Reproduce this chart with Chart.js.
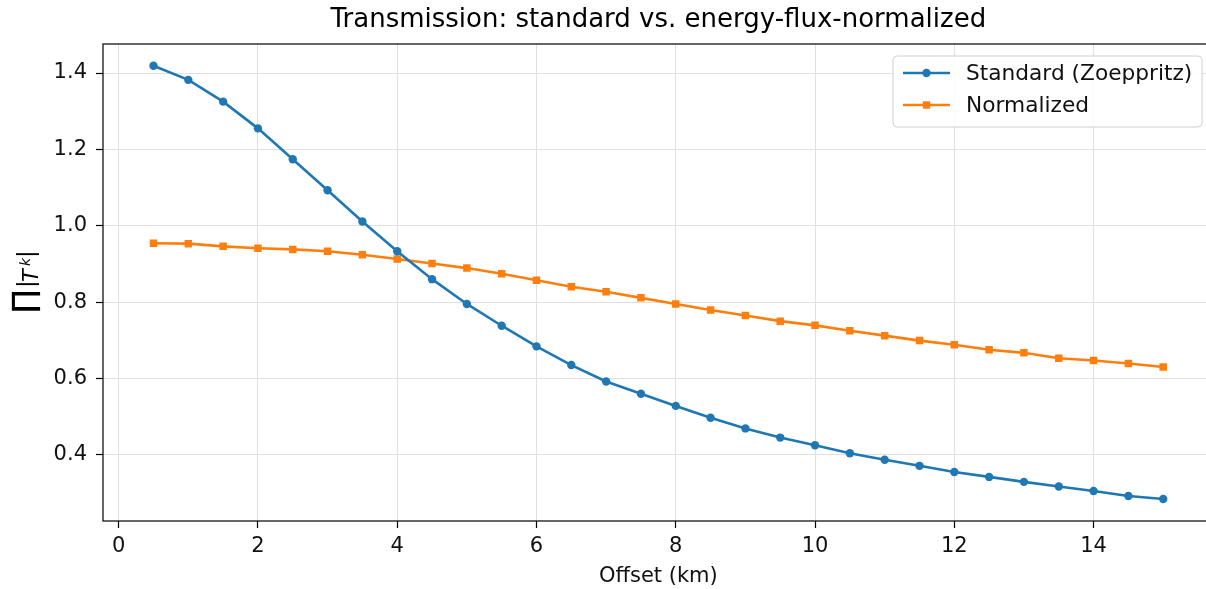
<!DOCTYPE html>
<html>
<head>
<meta charset="utf-8">
<script src="https://cdn.jsdelivr.net/npm/chart.js@4.4.1/dist/chart.umd.min.js"></script>
<style>
  html, body { margin: 0; padding: 0; background: #fff; overflow: hidden; }
  #wrap { width: 1206px; height: 589px; overflow: hidden; }
</style>
</head>
<body>
<div id="wrap"><canvas id="chart" width="1219" height="589"></canvas></div>
<script>
// offsets in km
const offsets = [0.5, 1, 1.5, 2, 2.5, 3, 3.5, 4, 4.5, 5, 5.5, 6, 6.5, 7, 7.5,
                 8, 8.5, 9, 9.5, 10, 10.5, 11, 11.5, 12, 12.5, 13, 13.5, 14, 14.5, 15];
const standard = [1.419, 1.382, 1.325, 1.255, 1.174, 1.093, 1.011, 0.933, 0.860, 0.795,
                  0.738, 0.684, 0.635, 0.592, 0.560, 0.528, 0.497, 0.469, 0.445, 0.425,
                  0.404, 0.387, 0.371, 0.355, 0.342, 0.329, 0.317, 0.305, 0.292, 0.284];
const normalized = [0.954, 0.953, 0.946, 0.941, 0.938, 0.933, 0.924, 0.913, 0.901, 0.889,
                    0.874, 0.857, 0.840, 0.827, 0.811, 0.795, 0.779, 0.765, 0.750, 0.739,
                    0.725, 0.712, 0.699, 0.688, 0.675, 0.667, 0.653, 0.647, 0.639, 0.630];
const xTicks = [0, 2, 4, 6, 8, 10, 12, 14];
const yTicks = [0.4, 0.6, 0.8, 1.0, 1.2, 1.4];

const FONT = "'DejaVu Sans', sans-serif";

// frame around the plot area (top spine too)
const frame = {
    id: 'frame',
    afterDraw(chart) {
        const a = chart.chartArea, ctx = chart.ctx;
        ctx.save();
        ctx.strokeStyle = '#000';
        ctx.lineWidth = 1.2;
        ctx.strokeRect(a.left, a.top, a.right - a.left, a.bottom - a.top);
        ctx.restore();
    }
};

// y label: big product sign followed by |T_k|
const yLabel = {
    id: 'yLabel',
    afterDraw(chart) {
        const ctx = chart.ctx;
        ctx.save();
        ctx.translate(34, 313);
        ctx.rotate(-Math.PI / 2);
        ctx.fillStyle = '#000';
        ctx.textBaseline = 'alphabetic';
        ctx.font = '31px ' + FONT;
        ctx.fillText('∏', 0, 0);
        ctx.font = '23px ' + FONT;
        ctx.fillText('|', 25, 0);
        ctx.font = 'italic 21px ' + FONT;
        ctx.fillText('T', 31, 4);
        ctx.font = 'italic 14px ' + FONT;
        ctx.fillText('k', 47, -4);
        ctx.font = '23px ' + FONT;
        ctx.fillText('|', 55, 0);
        ctx.restore();
    }
};

// legend box in the upper right corner
const legendBox = {
    id: 'legendBox',
    afterDraw(chart) {
        const ctx = chart.ctx;
        const x0 = 893, y0 = 56, w = 309, h = 71;
        ctx.save();
        ctx.beginPath();
        ctx.roundRect(x0, y0, w, h, 4);
        ctx.fillStyle = 'rgba(255,255,255,0.85)';
        ctx.fill();
        ctx.strokeStyle = '#d0d0d0';
        ctx.lineWidth = 1;
        ctx.stroke();
        chart.data.datasets.forEach((ds, i) => {
            const y = 73 + i * 32;
            ctx.strokeStyle = ds.borderColor;
            ctx.lineWidth = 2.6;
            ctx.beginPath();
            ctx.moveTo(903, y);
            ctx.lineTo(950, y);
            ctx.stroke();
            ctx.fillStyle = ds.borderColor;
            if (ds.pointStyle === 'rect') {
                ctx.fillRect(926.5 - 3.7, y - 3.7, 7.4, 7.4);
            } else {
                ctx.beginPath();
                ctx.arc(926.5, y, 4.2, 0, Math.PI * 2);
                ctx.fill();
            }
            ctx.fillStyle = '#111';
            ctx.font = '21.7px ' + FONT;
            ctx.textBaseline = 'middle';
            ctx.fillText(ds.label, 966, y + 1);
        });
        ctx.restore();
    }
};

const ctx = document.getElementById('chart').getContext('2d');
new Chart(ctx, {
    type: 'line',
    data: {
        datasets: [
            {
                label: 'Standard (Zoeppritz)',
                data: offsets.map((x, i) => ({ x: x, y: standard[i] })),
                borderColor: '#1f77b4',
                backgroundColor: '#1f77b4',
                borderWidth: 2.6,
                pointStyle: 'circle',
                pointRadius: 4.2,
                pointBorderWidth: 0,
                tension: 0
            },
            {
                label: 'Normalized',
                data: offsets.map((x, i) => ({ x: x, y: normalized[i] })),
                borderColor: '#ff7f0e',
                backgroundColor: '#ff7f0e',
                borderWidth: 2.6,
                pointStyle: 'rect',
                pointRadius: 5.3,
                pointBorderWidth: 0,
                tension: 0
            }
        ]
    },
    options: {
        responsive: false,
        animation: false,
        devicePixelRatio: 1,
        layout: { padding: 0 },
        plugins: {
            legend: { display: false },
            tooltip: { enabled: false },
            title: {
                display: true,
                text: 'Transmission: standard vs. energy-flux-normalized',
                fullSize: false,
                color: '#000',
                font: { family: FONT, size: 26, weight: 'normal', lineHeight: 1.2 },
                padding: { top: 5, bottom: 7.8 }
            }
        },
        scales: {
            x: {
                type: 'linear',
                min: -0.225,
                max: 15.725,
                afterFit(scale) { scale.height = 68; },
                afterBuildTicks(scale) { scale.ticks = xTicks.map(v => ({ value: v })); },
                grid: { color: '#e0e0e0', lineWidth: 1, tickColor: '#000', tickLength: 7, tickWidth: 1.2 },
                border: { display: false },
                ticks: {
                    color: '#111',
                    padding: 6,
                    maxRotation: 0,
                    font: { family: FONT, size: 21 },
                    callback: v => String(v)
                },
                title: {
                    display: true,
                    text: 'Offset (km)',
                    color: '#111',
                    font: { family: FONT, size: 21 },
                    padding: { top: 2, bottom: 0 }
                }
            },
            y: {
                type: 'linear',
                min: 0.2265,
                max: 1.476,
                afterFit(scale) { scale.width = 103; },
                afterBuildTicks(scale) { scale.ticks = yTicks.map(v => ({ value: v })); },
                grid: { color: '#e0e0e0', lineWidth: 1, tickColor: '#000', tickLength: 7, tickWidth: 1.2 },
                border: { display: false },
                ticks: {
                    color: '#111',
                    padding: 9,
                    font: { family: FONT, size: 21 },
                    callback: v => v.toFixed(1)
                }
            }
        }
    },
    plugins: [frame, yLabel, legendBox]
});
</script>
</body>
</html>
